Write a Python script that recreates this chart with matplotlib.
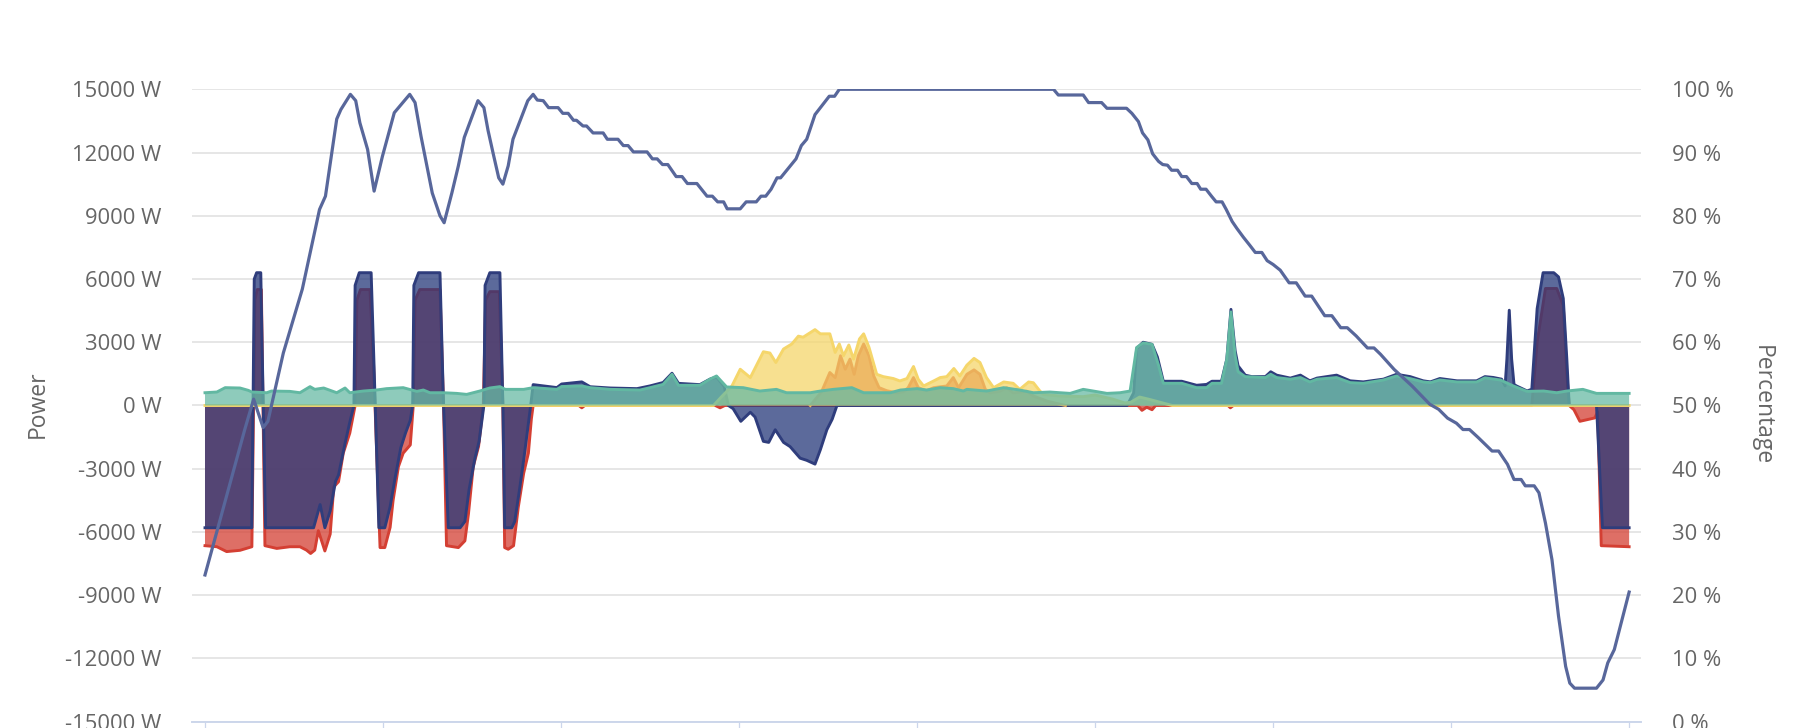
import matplotlib
matplotlib.use("Agg")
import matplotlib.pyplot as plt

plt.rcParams['font.family'] = ['Open Sans', 'DejaVu Sans']

# time of day in hours, power in W (vertices)
blue_t = [0.00, 0.79, 0.83, 0.87, 0.94, 1.02, 1.83, 1.94, 2.02, 2.11, 2.20, 2.25, 2.36, 2.44, 2.51,
          2.53, 2.60, 2.80, 2.85, 2.93, 3.03, 3.12, 3.20, 3.30, 3.38, 3.46, 3.50, 3.52, 3.60, 3.96,
          4.02, 4.10, 4.30, 4.38, 4.45, 4.55, 4.62, 4.70, 4.72, 4.80, 4.97, 5.02, 5.05, 5.17, 5.22,
          5.30, 5.37, 5.42, 5.48, 5.53, 5.93, 6.01, 6.35, 6.49, 6.83, 7.28, 7.50, 7.72, 7.87, 7.98,
          8.34, 8.51, 8.62, 8.75, 8.82, 8.90, 9.03, 9.19, 9.27, 9.41, 9.50, 9.61, 9.75, 9.86, 10.03,
          10.14, 10.28, 10.37, 10.48, 10.57, 10.65, 15.54, 15.65, 15.70, 15.81, 15.96, 16.05, 16.15,
          16.46, 16.71, 16.88, 16.97, 17.13, 17.22, 17.29, 17.36, 17.41, 17.53, 17.64, 17.87, 17.96,
          18.06, 18.29, 18.46, 18.62, 18.74, 19.07, 19.30, 19.52, 19.86, 20.08, 20.31, 20.53, 20.65,
          20.81, 21.10, 21.43, 21.57, 21.71, 21.85, 21.91, 21.94, 21.98, 22.02, 22.06, 22.10, 22.28,
          22.36, 22.45, 22.55, 22.73, 22.81, 22.89, 22.95, 22.99, 23.45, 23.55, 24.00]
blue_w = [-5800, -5800, 6000, 6300, 6300, -5800, -5800, -4700, -5800, -5000, -3600, -3300, -1800, -800, 0,
          5700, 6300, 6300, 1800, -5800, -5800, -4800, -3500, -2000, -1300, -700, 0, 5700, 6300, 6300,
          0, -5800, -5800, -5500, -4000, -2500, -1700, 0, 5700, 6300, 6300, 0, -5800, -5800, -5500,
          -4000, -2600, -1500, -200, 990, 850, 1020, 1120, 890, 830, 800, 930, 1090, 1530, 1050,
          990, 1250, 1350, 900, 0, -150, -750, -320, -550, -1700, -1750, -1150, -1750, -1950, -2500,
          -2600, -2780, -2100, -1150, -650, 0, 0, 600, 2700, 3000, 2900, 2300, 1150,
          1150, 960, 1000, 1150, 1150, 2200, 4560, 2600, 1880, 1440, 1370, 1370, 1600,
          1440, 1300, 1440, 1170, 1300, 1440, 1170, 1120, 1250, 1480, 1370, 1170, 1120,
          1280, 1170, 1170, 1370, 1330, 1250, 930, 2200, 4520, 2200, 1000, 930, 690,
          770, 4600, 6300, 6300, 6100, 5080, 2200, 0, 0, -5800, -5800]

red_t = [0.00, 0.20, 0.365, 0.59, 0.79, 0.84, 0.88, 0.95, 1.01, 1.21, 1.43, 1.60, 1.71, 1.78, 1.85,
         1.91, 2.02, 2.11, 2.17, 2.25, 2.33, 2.44, 2.53, 2.56, 2.62, 2.78, 2.84, 2.95, 3.03, 3.12,
         3.17, 3.26, 3.34, 3.46, 3.51, 3.54, 3.62, 3.96, 4.02, 4.07, 4.27, 4.38, 4.44, 4.52, 4.61,
         4.69, 4.73, 4.80, 4.96, 5.02, 5.05, 5.11, 5.20, 5.28, 5.37, 5.45, 5.50, 5.53,
         6.30, 6.35, 6.40, 8.60, 8.68, 8.76, 15.72, 15.79, 15.87, 15.96, 16.02, 17.24, 17.28, 17.33,
         22.36, 22.45, 22.59, 22.78, 22.89, 22.95, 22.99, 23.07, 23.17, 23.42, 23.47, 23.53, 24.00]
red_w = [-6650, -6700, -6930, -6870, -6700, 5000, 5500, 5500, -6650, -6780, -6700, -6700, -6860, -7020, -6860,
         -5940, -6900, -6100, -3860, -3620, -2260, -1310, 0, 5000, 5500, 5500, 2000, -6740, -6740, -5780,
         -4500, -2900, -2260, -1870, 0, 5000, 5500, 5500, 0, -6650, -6740, -6420, -5140, -2900, -1950,
         0, 5000, 5400, 5400, 0, -6740, -6820, -6650, -4820, -3220, -2260, -640, 0,
         0, -110, 0, 0, -110, 0, 0, -230, -80, -200, 0, 0, -110, 0,
         0, 3000, 5550, 5550, 4750, 1500, 0, -200, -750, -590, -300, -6650, -6700]

solar_t = [0.00, 8.57, 8.70, 8.88, 9.02, 9.19, 9.41, 9.52, 9.62, 9.75, 9.89, 10.00, 10.08, 10.28, 10.37,
           10.53, 10.62, 10.69, 10.76, 10.85, 10.93, 11.03, 11.10, 11.19, 11.32, 11.43, 11.60, 11.71,
           11.83, 11.94, 12.02, 12.11, 12.28, 12.39, 12.50, 12.62, 12.72, 12.84, 12.96, 13.06, 13.17,
           13.29, 13.46, 13.62, 13.73, 13.88, 13.96, 14.07, 14.13, 14.40, 14.80, 15.00, 15.30, 15.50,
           15.60, 15.75, 15.90, 16.10, 16.30, 24.00]
solar_w = [0, 0, 400, 925, 1720, 1325, 2550, 2490, 2040, 2680, 2920, 3290, 3240, 3600, 3400,
           3400, 2520, 2920, 2360, 2870, 2200, 3160, 3400, 2760, 1480, 1370, 1280, 1165,
           1280, 1850, 1245, 925, 1165, 1325, 1370, 1755, 1400, 1915, 2235, 2040, 1325,
           846, 1117, 1053, 766, 1117, 1080, 686, 527, 450, 420, 500, 300, 120,
           150, 400, 300, 150, 0, 0]

# second solar string, only reported while producing
orange_t = [10.20, 10.39, 10.53, 10.62, 10.71, 10.79, 10.87, 10.94, 11.01, 11.10, 11.19, 11.27,
            11.36, 11.49, 11.66, 11.77, 11.85, 11.94, 12.02, 12.16, 12.28, 12.50, 12.61, 12.70, 12.84,
            12.96, 13.06, 13.15, 13.23, 13.40, 13.51, 13.62, 13.85, 13.96, 14.20, 14.50]
orange_w = [0, 650, 1565, 1325, 2360, 1720, 2200, 1480, 2360, 2920, 2360, 1400,
            846, 700, 600, 650, 846, 1325, 846, 700, 846, 925, 1325, 846, 1480,
            1690, 1480, 766, 600, 680, 846, 600, 680, 450, 200, 0]

house_t = [0.00, 0.20, 0.34, 0.59, 0.73, 0.79, 1.04, 1.12, 1.43, 1.60, 1.77, 1.85, 2.00, 2.22, 2.36,
           2.44, 2.67, 2.89, 3.06, 3.34, 3.57, 3.68, 3.79, 4.02, 4.24, 4.41, 4.63, 4.80, 4.97, 5.06,
           5.37, 5.53, 5.93, 6.01, 6.35, 6.49, 6.83, 7.33, 7.50, 7.72, 7.87, 7.98, 8.34, 8.51, 8.62,
           8.79, 9.07, 9.35, 9.63, 9.80, 10.20, 10.37, 10.59, 10.90, 11.10, 11.55, 11.72, 12.00,
           12.16, 12.39, 12.61, 12.78, 12.84, 13.17, 13.46, 13.73, 13.96, 14.24, 14.41, 14.58, 14.80,
           14.97, 15.20, 15.42, 15.59, 15.70, 15.81, 15.96, 16.07, 16.15, 16.46, 16.71, 16.88, 16.97,
           17.13, 17.22, 17.29, 17.36, 17.41, 17.53, 17.87, 17.96, 18.06, 18.29, 18.46, 18.62, 18.74,
           19.07, 19.30, 19.52, 19.86, 20.08, 20.31, 20.53, 20.65, 20.81, 21.10, 21.43, 21.57, 21.83,
           22.05, 22.28, 22.56, 22.78, 22.95, 23.22, 23.45, 24.00]
house_w = [606, 640, 846, 830, 718, 640, 606, 686, 670, 606, 894, 766, 830, 606, 830,
           606, 686, 734, 800, 846, 670, 734, 606, 606, 575, 527, 686, 830, 894, 766,
           766, 846, 766, 900, 926, 846, 766, 734, 846, 1000, 1480, 958, 960, 1250, 1400,
           880, 846, 686, 766, 606, 606, 686, 766, 846, 606, 606, 734, 800,
           734, 846, 800, 686, 766, 686, 846, 734, 606, 640, 606, 575, 766,
           686, 575, 606, 686, 2750, 2970, 2900, 1900, 1053, 1053, 846, 846, 1053,
           1053, 2200, 4440, 2360, 1600, 1370, 1325, 1480, 1325, 1245, 1325, 1117, 1245,
           1325, 1085, 1053, 1210, 1400, 1275, 1117, 1085, 1210, 1117, 1117, 1310, 1210,
           926, 670, 686, 606, 686, 766, 575, 575]

# battery state of charge in %
soc_t = [0.00, 0.67, 0.82, 0.98, 1.06, 1.32, 1.64, 1.93, 2.03, 2.22, 2.29, 2.45, 2.54, 2.61, 2.74,
         2.85, 2.99, 3.19, 3.45, 3.54, 3.64, 3.83, 3.96, 4.03, 4.16, 4.27, 4.37, 4.60, 4.70, 4.77,
         4.86, 4.95, 5.02, 5.11, 5.19, 5.44, 5.53, 5.60, 5.70, 5.79, 5.95, 6.03, 6.12, 6.21, 6.26,
         6.37, 6.43, 6.54, 6.71, 6.78, 6.96, 7.05, 7.13, 7.22, 7.45, 7.54, 7.62, 7.71, 7.80, 7.94,
         8.04, 8.13, 8.29, 8.46, 8.55, 8.64, 8.74, 8.80, 9.02, 9.12, 9.29, 9.37, 9.45, 9.54, 9.64,
         9.70, 9.96, 10.05, 10.14, 10.28, 10.52, 10.61, 10.69, 14.30, 14.38, 14.80, 14.89, 15.11,
         15.20, 15.53, 15.62, 15.73, 15.80, 15.89, 15.97, 16.07, 16.14, 16.22, 16.29, 16.39, 16.46,
         16.54, 16.63, 16.72, 16.78, 16.87, 16.97, 17.04, 17.14, 17.21, 17.31, 17.39, 17.50, 17.61,
         17.70, 17.81, 17.90, 18.00, 18.12, 18.27, 18.39, 18.54, 18.65, 18.87, 18.99, 19.14, 19.25,
         19.40, 19.59, 19.70, 19.81, 20.04, 20.34, 20.64, 20.79, 20.94, 21.09, 21.20, 21.31, 21.46,
         21.69, 21.80, 21.95, 22.06, 22.18, 22.25, 22.40, 22.48, 22.59, 22.70, 22.81, 22.93, 23.00,
         23.08, 23.45, 23.56, 23.64, 23.75, 24.00]
soc_pct = [23.2, 46.2, 51.0, 46.5, 47.5, 58.3, 68.4, 81.0, 83.1, 95.3, 96.8, 99.2, 98.2, 94.7, 90.5,
           83.9, 89.4, 96.3, 99.2, 97.9, 92.6, 83.6, 80.0, 78.9, 83.6, 87.9, 92.4, 98.2, 97.1, 93.5,
           89.7, 86.0, 85.0, 87.9, 92.1, 98.2, 99.2, 98.3, 98.2, 97.1, 97.1, 96.2, 96.2, 95.1, 95.1,
           94.2, 94.2, 93.1, 93.1, 92.1, 92.1, 91.1, 91.1, 90.1, 90.1, 89.0, 89.0, 88.1, 88.1, 86.2,
           86.2, 85.1, 85.1, 83.1, 83.1, 82.2, 82.2, 81.1, 81.1, 82.2, 82.2, 83.1, 83.1, 84.2, 86.0,
           86.0, 89.0, 91.1, 92.1, 96.0, 98.9, 98.9, 100, 100, 99.1, 99.1, 97.9, 97.9,
           97.0, 97.0, 96.2, 94.9, 93.1, 92.0, 89.8, 88.6, 88.1, 88.0, 87.2, 87.2, 86.2,
           86.2, 85.1, 85.1, 84.2, 84.2, 83.0, 82.2, 82.2, 81.0, 79.1, 78.0, 76.6, 75.3,
           74.2, 74.2, 72.9, 72.3, 71.4, 69.4, 69.4, 67.3, 67.3, 64.2, 64.2, 62.3, 62.3,
           61.0, 59.1, 59.1, 58.1, 55.7, 53.1, 50.2, 49.4, 48.0, 47.2, 46.2, 46.2, 44.9,
           42.8, 42.8, 40.7, 38.3, 38.3, 37.3, 37.3, 36.2, 31.4, 25.6, 16.7, 8.75, 6.1,
           5.3, 5.3, 6.6, 9.3, 11.4, 20.5]

power_ticks = list(range(-15000, 15001, 3000))
pct_ticks = list(range(0, 101, 10))
hour_ticks = list(range(0, 25, 3))

text_col = '#666666'
grid_col = '#e6e6e6'
axis_col = '#ccd6eb'

fig = plt.figure(figsize=(17.98, 7.28), dpi=100)
ax = fig.add_axes([192 / 1798, 6.3 / 728, 1449 / 1798, 632.4 / 728])

# (time, watts, fill colour, line colour, fill zorder, line zorder)
series = [
    (red_t, red_w, '#d43f33', '#d43f33', 1, 1.5),
    (blue_t, blue_w, '#26387a', '#2f3d7c', 2, 2.5),
    (solar_t, solar_w, '#f5d66b', '#f5d66b', 3, 3.5),
    (orange_t, orange_w, '#ebae5a', '#ecb05c', 4, 3.2),  # orange line stays under the yellow one
    (house_t, house_w, '#68baa4', '#62b8a2', 5, 5.5),
]
for t, w, fill_c, line_c, zf, zl in series:
    ax.fill_between(t, w, 0, facecolor=fill_c, alpha=0.75, linewidth=0, zorder=zf)
    ax.plot(t, w, color=line_c, lw=2.1, solid_joinstyle='round', zorder=zl)

ax.set_xlim(-0.219, 24.2)
ax.set_ylim(-15000, 15000)
ax.set_yticks(power_ticks)
ax.set_yticklabels([f'{v} W' for v in power_ticks])
ax.set_xticks(hour_ticks)
ax.set_xticklabels([])
ax.grid(axis='y', color=grid_col, lw=1.4)
ax.set_axisbelow(True)
for side in ['left', 'right', 'top']:
    ax.spines[side].set_visible(False)
ax.spines['bottom'].set_color(axis_col)
ax.spines['bottom'].set_linewidth(1.4)
ax.tick_params(axis='x', direction='out', length=7, width=0.9, color=axis_col)
ax.tick_params(axis='y', length=0, pad=22, labelsize=15.8, labelcolor=text_col)

ax2 = ax.twinx()
ax2.plot(soc_t, soc_pct, color='#58679b', lw=2.3, solid_joinstyle='round', zorder=10)
ax2.set_ylim(0, 100)
ax2.set_yticks(pct_ticks)
ax2.set_yticklabels([f'{v} %' for v in pct_ticks])
for side in ['left', 'right', 'top', 'bottom']:
    ax2.spines[side].set_visible(False)
ax2.tick_params(axis='y', length=0, pad=22, labelsize=15.8, labelcolor=text_col)

fig.text(37.5 / 1798, 1 - 404 / 728, 'Power', rotation=90, ha='center', va='center',
         fontsize=16.5, color=text_col)
fig.text(1762 / 1798, 1 - 405 / 728, 'Percentage', rotation=270, ha='center', va='center',
         fontsize=16.5, color=text_col)

fig.savefig('out.png', dpi=100)
